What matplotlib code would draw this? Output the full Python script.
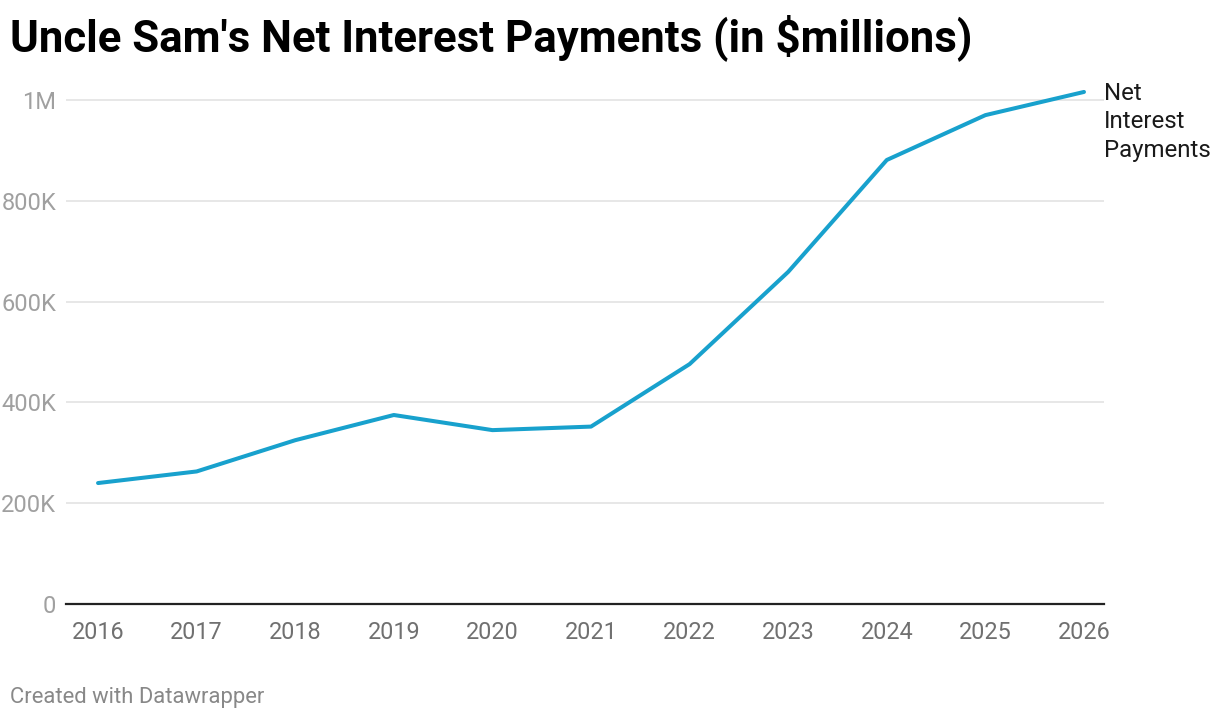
import matplotlib.pyplot as plt
from matplotlib.ticker import FuncFormatter

plt.rcParams['font.family'] = ['Roboto', 'DejaVu Sans']

# Daten (Nettozinszahlungen in $ Millionen)
jahre = [2016, 2017, 2018, 2019, 2020, 2021, 2022, 2023, 2024, 2025, 2026]
zinsen = [240000, 263000, 325000, 375000, 345000, 352000, 476000, 659000, 881000, 970000, 1016000]
y_ticks = [0, 200000, 400000, 600000, 800000, 1000000]
x_ticks = jahre

LINIE = '#18a1cd'


def format_k(wert, pos):
    if wert == 0:
        return '0'
    if wert >= 1000000:
        return f'{wert / 1000000:g}M'
    return f'{wert / 1000:g}K'


fig = plt.figure(figsize=(12.2, 7.22), dpi=100)
ax = fig.add_axes([66 / 1220, 1 - 604 / 722, (1104 - 66) / 1220, (604 - 80) / 722])

ax.plot(jahre, zinsen, color=LINIE, linewidth=2.9, solid_joinstyle='round',
        solid_capstyle='round', clip_on=False, zorder=3)

ax.set_xlim(2015.675, 2026.203)
ax.set_ylim(0, 1.0397e6)
ax.set_yticks(y_ticks)
ax.set_xticks(x_ticks)
ax.yaxis.set_major_formatter(FuncFormatter(format_k))

ax.grid(axis='y', color='#e3e3e3', linewidth=1.2)
ax.set_axisbelow(True)
for s in ['top', 'right', 'left']:
    ax.spines[s].set_visible(False)
ax.spines['bottom'].set_color('#222222')
ax.spines['bottom'].set_linewidth(1.6)
ax.spines['bottom'].set_zorder(4)

ax.tick_params(axis='y', length=0, pad=7, labelsize=17, labelcolor='#a0a0a0')
ax.tick_params(axis='x', length=0, pad=12, labelsize=16.8, labelcolor='#707070')

# Serienbeschriftung am Linienende
ax.annotate('Net\nInterest\nPayments', xy=(jahre[-1], zinsen[-1]), xytext=(14.4, 7.5),
            textcoords='offset points', ha='left', va='top', fontsize=17.3,
            color='#1a1a1a', linespacing=1.32, annotation_clip=False)

fig.text(10 / 1220, 1 - 38 / 722, "Uncle Sam's Net Interest Payments (in $millions)",
         fontsize=31.5, fontweight='bold', ha='left', va='center', color='#000000')
fig.text(10 / 1220, 1 - 697 / 722, 'Created with Datawrapper',
         fontsize=15.8, ha='left', va='center', color='#888888')

fig.savefig('out.png', dpi=100)
